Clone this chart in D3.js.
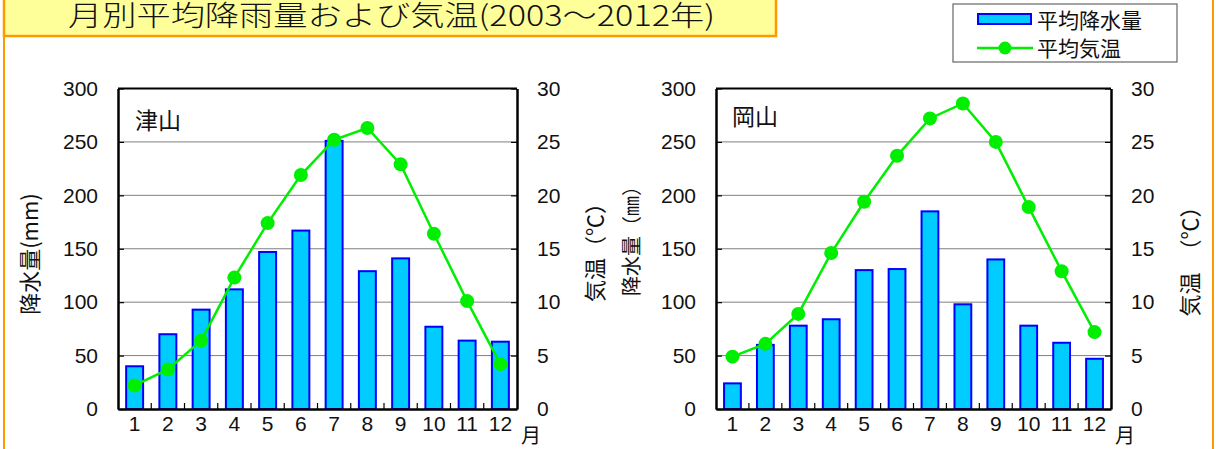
<!DOCTYPE html>
<html>
<head>
<meta charset="utf-8">
<script src="https://cdn.jsdelivr.net/npm/d3@7"></script>
<style>
  html, body { margin: 0; padding: 0; background: #fff; }
  svg { display: block; }
  text { font-family: "Liberation Sans", Arial, sans-serif; }
  .jp { font-family: "Noto Sans CJK JP", sans-serif; }
</style>
</head>
<body>
<svg id="chart" width="1216" height="449"></svg>
<script>
// Monthly normals, 2003–2012
const months = ["1", "2", "3", "4", "5", "6", "7", "8", "9", "10", "11", "12"];
const tsuyamaRain = [40, 70, 93, 112, 147, 167, 251, 129, 141, 77, 64, 63];
const tsuyamaTemp = [2.2, 3.7, 6.4, 12.3, 17.4, 21.9, 25.2, 26.3, 22.9, 16.4, 10.1, 4.2];
const okayamaRain = [24, 60, 78, 84, 130, 131, 185, 98, 140, 78, 62, 47];
const okayamaTemp = [4.9, 6.1, 8.9, 14.6, 19.4, 23.7, 27.2, 28.6, 25.0, 18.9, 12.9, 7.2];
const rainTicks = [0, 50, 100, 150, 200, 250, 300];
const tempTicks = [0, 5, 10, 15, 20, 25, 30];

const svg = d3.select("#chart");

// outer frame
svg.append("rect").attr("x", 4).attr("y", -10).attr("width", 1209).attr("height", 480)
  .attr("fill", "#fff").attr("stroke", "#FF9900").attr("stroke-width", 2);

// title banner
svg.append("rect").attr("x", 4).attr("y", -10).attr("width", 772).attr("height", 46)
  .attr("fill", "#FFFF99").attr("stroke", "#FF9900").attr("stroke-width", 2.5);
svg.append("text").attr("class", "jp").attr("x", 68).attr("y", 26)
  .attr("font-size", 28).attr("font-weight", 300).attr("fill", "#111")
  .attr("textLength", 647).attr("lengthAdjust", "spacingAndGlyphs")
  .text("月別平均降雨量および気温(2003～2012年)");

// legend
const lg = svg.append("g");
lg.append("rect").attr("x", 953).attr("y", 4).attr("width", 224).attr("height", 58)
  .attr("fill", "#fff").attr("stroke", "#666").attr("stroke-width", 1.2);
lg.append("rect").attr("x", 978).attr("y", 14).attr("width", 53).attr("height", 10)
  .attr("fill", "#00CCFF").attr("stroke", "#0000FF").attr("stroke-width", 2);
lg.append("text").attr("class", "jp").attr("x", 1037).attr("y", 20).attr("dy", "0.36em")
  .attr("font-size", 21).attr("fill", "#111").text("平均降水量");
lg.append("line").attr("x1", 977).attr("x2", 1033).attr("y1", 48).attr("y2", 48)
  .attr("stroke", "#00EE00").attr("stroke-width", 2.5);
lg.append("circle").attr("cx", 1005).attr("cy", 48).attr("r", 6.5).attr("fill", "#00EE00");
lg.append("text").attr("class", "jp").attr("x", 1037).attr("y", 48).attr("dy", "0.36em")
  .attr("font-size", 21).attr("fill", "#111").text("平均気温");

function drawPanel(cfg) {
  const { left, right, top, bottom, rain, temp, name } = cfg;
  const g = svg.append("g");
  const x = d3.scaleBand().domain(months).range([left, right]).padding(0);
  const yR = d3.scaleLinear().domain([0, 300]).range([bottom, top]);
  const yT = d3.scaleLinear().domain([0, 30]).range([bottom, top]);
  const bw = x.bandwidth();

  // horizontal grid
  g.selectAll(".grid").data(rainTicks.slice(1, -1)).join("line")
    .attr("x1", left).attr("x2", right)
    .attr("y1", d => yR(d)).attr("y2", d => yR(d))
    .attr("stroke", "#808080").attr("stroke-width", 1);

  // bars
  g.selectAll(".bar").data(rain).join("rect")
    .attr("x", (d, i) => x(months[i]) + bw * 0.245)
    .attr("width", bw * 0.51)
    .attr("y", d => yR(d))
    .attr("height", d => bottom - yR(d))
    .attr("fill", "#00CCFF").attr("stroke", "#0000FF").attr("stroke-width", 2);

  // left axis (rainfall)
  const axL = g.append("g").attr("transform", `translate(${left},0)`)
    .call(d3.axisLeft(yR).tickValues(rainTicks).tickSizeInner(-6).tickSizeOuter(0).tickPadding(20));
  // right axis (temperature)
  const axR = g.append("g").attr("transform", `translate(${right},0)`)
    .call(d3.axisRight(yT).tickValues(tempTicks).tickSizeInner(-6).tickSizeOuter(0).tickPadding(20));
  // bottom axis
  const axB = g.append("g").attr("transform", `translate(0,${bottom})`)
    .call(d3.axisBottom(x).tickSize(0).tickPadding(18));
  [axL, axR, axB].forEach(a => {
    a.selectAll("text").attr("font-size", 21).attr("fill", "#111")
      .attr("font-family", "Liberation Sans, Arial, sans-serif");
    a.select(".domain").attr("stroke", "#000").attr("stroke-width", 2.5);
    a.selectAll(".tick line").attr("stroke", "#000").attr("stroke-width", 1.2);
  });
  axB.selectAll("text").attr("dy", "0.2em");

  // minor ticks between months
  g.selectAll(".mt").data(months.slice(1)).join("line")
    .attr("x1", d => x(d)).attr("x2", d => x(d))
    .attr("y1", bottom).attr("y2", bottom - 6)
    .attr("stroke", "#000").attr("stroke-width", 1.2);

  // top border
  g.append("line").attr("x1", left).attr("x2", right).attr("y1", top).attr("y2", top)
    .attr("stroke", "#000").attr("stroke-width", 2);

  // temperature line
  const line = d3.line().x((d, i) => x(months[i]) + bw / 2).y(d => yT(d));
  g.append("path").datum(temp).attr("d", line)
    .attr("fill", "none").attr("stroke", "#00EE00").attr("stroke-width", 2.5);
  g.selectAll(".dot").data(temp).join("circle")
    .attr("cx", (d, i) => x(months[i]) + bw / 2).attr("cy", d => yT(d))
    .attr("r", 7).attr("fill", "#00EE00");

  // station name
  g.append("text").attr("class", "jp").attr("x", left + cfg.nameDx).attr("y", top + cfg.nameDy)
    .attr("dy", "0.36em").attr("font-size", 23).attr("fill", "#111").text(name);

  // month unit
  g.append("text").attr("class", "jp").attr("x", right + 4).attr("y", bottom + 27)
    .attr("dy", "0.34em").attr("font-size", 20).attr("fill", "#111").text("月");

  // axis titles
  g.append("text").attr("class", "jp")
    .attr("transform", `translate(${cfg.lTitleX},${cfg.lTitleY}) rotate(-90)`)
    .attr("text-anchor", "middle").attr("dy", "0.36em")
    .attr("font-size", cfg.lTitleSize).attr("fill", "#111").text(cfg.lTitle);
  g.append("text").attr("class", "jp")
    .attr("transform", `translate(${cfg.rTitleX},${cfg.rTitleY}) rotate(-90)`)
    .attr("text-anchor", "middle").attr("dy", "0.36em")
    .attr("font-size", 22).attr("fill", "#111").attr("xml:space", "preserve").text(cfg.rTitle);
}

drawPanel({
  left: 118, right: 517, top: 88.5, bottom: 409,
  rain: tsuyamaRain, temp: tsuyamaTemp, name: "津山", nameDx: 17, nameDy: 32,
  lTitle: "降水量(mm)", lTitleX: 30, lTitleY: 254, lTitleSize: 22,
  rTitle: "気温（℃）", rTitleX: 595, rTitleY: 247
});
drawPanel({
  left: 716, right: 1111, top: 88.5, bottom: 409,
  rain: okayamaRain, temp: okayamaTemp, name: "岡山", nameDx: 16, nameDy: 28,
  lTitle: "降水量（㎜）", lTitleX: 632, lTitleY: 236, lTitleSize: 20,
  rTitle: "気温　（℃）", rTitleX: 1190, rTitleY: 256
});
</script>
</body>
</html>
